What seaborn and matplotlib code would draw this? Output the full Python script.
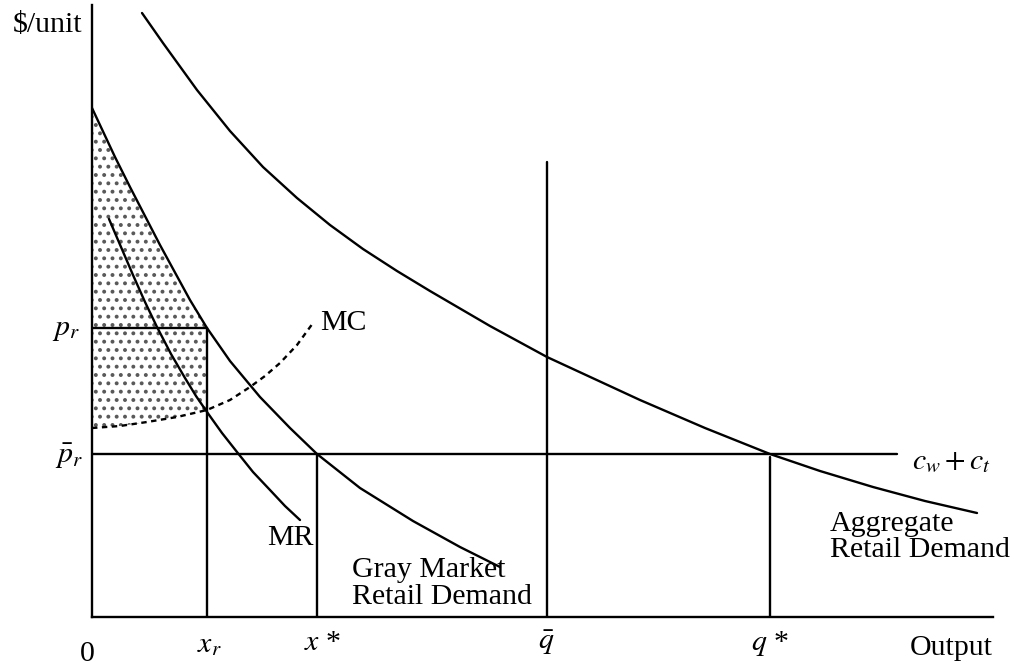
import matplotlib
matplotlib.use("Agg")
import matplotlib.pyplot as plt
import seaborn as sns

# curve readings, x = output, y = $/unit
agg_x = [0.50, 0.71, 1.05, 1.38, 1.71, 2.05, 2.38, 2.71, 3.05, 3.38,
         3.98, 4.55, 5.48, 6.13, 6.78, 7.28, 7.81, 8.33, 8.85]
agg_y = [6.04, 5.74, 5.27, 4.86, 4.50, 4.19, 3.92, 3.68, 3.46, 3.26,
         2.91, 2.60, 2.17, 1.89, 1.63, 1.46, 1.30, 1.16, 1.04]

gray_x = [0.00, 0.23, 0.38, 0.68, 0.98, 1.15, 1.38, 1.68, 1.98, 2.25,
          2.68, 3.21, 3.68, 4.08]
gray_y = [5.09, 4.60, 4.30, 3.72, 3.17, 2.89, 2.56, 2.20, 1.89, 1.63,
          1.29, 0.96, 0.70, 0.50]

mr_x = [0.17, 0.29, 0.41, 0.53, 0.65, 0.79, 0.93, 1.04, 1.15, 1.30,
        1.45, 1.61, 1.78, 1.93, 2.08]
mr_y = [3.98, 3.70, 3.42, 3.15, 2.90, 2.63, 2.39, 2.21, 2.05, 1.84,
        1.65, 1.45, 1.27, 1.11, 0.97]

mc_x = [0.00, 0.28, 0.55, 0.85, 1.15, 1.38, 1.58, 1.73, 1.88, 2.05, 2.21]
mc_y = [1.89, 1.91, 1.95, 2.00, 2.07, 2.17, 2.30, 2.41, 2.54, 2.72, 2.94]

x_r, p_r = 1.15, 2.89
x_star, p_bar = 2.25, 1.63
q_bar, q_bar_top = 4.55, 4.55
q_star = 6.78
cost_end = 8.05

sns.set_theme(style="white")
plt.rcParams["font.family"] = ["Liberation Serif", "DejaVu Serif"]
plt.rcParams["mathtext.fontset"] = "stix"
plt.rcParams["hatch.linewidth"] = 1.6

FS = 21.5
LW = 1.7

fig = plt.figure(figsize=(10.18, 6.68), dpi=100)
ax = fig.add_axes([92 / 1018, 51 / 668, 901 / 1018, 612 / 668])
ax.set_xlim(0, 9.01)
ax.set_ylim(0, 6.12)
for side in ["top", "right"]:
    ax.spines[side].set_visible(False)
for side in ["left", "bottom"]:
    ax.spines[side].set_color("black")
    ax.spines[side].set_linewidth(LW)
ax.set_xticks([])
ax.set_yticks([])

# dotted area between gray market demand and MC, left of x_r
poly_x = [x for x in gray_x if x <= x_r] + [x for x in mc_x if x <= x_r][::-1]
poly_y = [y for x, y in zip(gray_x, gray_y) if x <= x_r] + \
    [y for x, y in zip(mc_x, mc_y) if x <= x_r][::-1]
ax.fill(poly_x, poly_y, facecolor="white", edgecolor="0.35", hatch="..", lw=0)

sns.lineplot(x=agg_x, y=agg_y, ax=ax, color="black", lw=LW, sort=False)
sns.lineplot(x=gray_x, y=gray_y, ax=ax, color="black", lw=LW, sort=False)
sns.lineplot(x=mr_x, y=mr_y, ax=ax, color="black", lw=LW, sort=False)
sns.lineplot(x=mc_x, y=mc_y, ax=ax, color="black", lw=LW, sort=False,
             linestyle=(0, (2.3, 1.9)))

# price / quantity guide lines
ax.plot([0, x_r], [p_r, p_r], color="black", lw=LW)
ax.plot([x_r, x_r], [0, p_r], color="black", lw=LW)
ax.plot([0, cost_end], [p_bar, p_bar], color="black", lw=LW)
ax.plot([x_star, x_star], [0, p_bar], color="black", lw=LW)
ax.plot([q_bar, q_bar], [0, q_bar_top], color="black", lw=LW)
ax.plot([q_star, q_star], [0, p_bar - 0.03], color="black", lw=LW)

kw = dict(fontsize=FS, color="black", clip_on=False)
ax.text(-0.44, 5.92, r"\$/unit", ha="center", va="center", **kw)
ax.text(-0.05, -0.37, "0", ha="center", va="center", **kw)
ax.text(x_r + 0.02, -0.28, r"$x_r$", ha="center", va="center", **kw)
ax.text(x_star + 0.06, -0.26, r"$x$ *", ha="center", va="center", **kw)
ax.text(q_bar - 0.01, -0.26, r"$\bar{q}$", ha="center", va="center", **kw)
ax.text(q_star, -0.26, r"$q$ *", ha="center", va="center", **kw)
ax.text(9.01, -0.31, "Output", ha="right", va="center", **kw)
ax.text(-0.26, p_r - 0.02, r"$p_r$", ha="center", va="center", **kw)
ax.text(-0.23, p_bar - 0.02, r"$\bar{p}_r$", ha="center", va="center", **kw)
ax.text(2.28, 2.94, "MC", ha="left", va="center", **kw)
ax.text(8.20, 1.55, r"$c_w + c_t$", ha="left", va="center", **kw)
ax.text(1.98, 0.79, "MR", ha="center", va="center", **kw)
ax.text(2.60, 0.60, "Gray Market\nRetail Demand", ha="left", va="top",
        linespacing=1.05, **kw)
ax.text(7.38, 1.06, "Aggregate\nRetail Demand", ha="left", va="top",
        linespacing=1.0, **kw)

fig.savefig("out.png", dpi=100)
